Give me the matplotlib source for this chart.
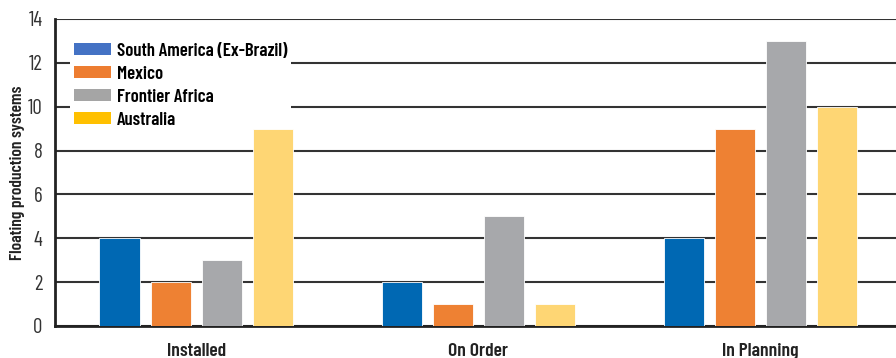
import matplotlib
matplotlib.use("Agg")
import matplotlib.pyplot as plt
from matplotlib.patches import Patch
import numpy as np

plt.rcParams['font.family'] = ['Barlow Condensed', 'Roboto Condensed', 'DejaVu Sans']

categories = ['Installed', 'On Order', 'In Planning']
series = ['South America (Ex-Brazil)', 'Mexico', 'Frontier Africa', 'Australia']
south_america = [4, 2, 4]
mexico = [2, 1, 9]
frontier_africa = [3, 5, 13]
australia = [9, 1, 10]

bar_colors = ['#0068b3', '#ee8133', '#a7a8ab', '#fed674']
legend_colors = ['#4472c4', '#ed7d31', '#a5a5a5', '#ffc000']

fig = plt.figure(figsize=(8.96, 3.58), dpi=100)
ax = fig.add_axes([0.0614, 0.0894, 0.9386, 0.8576])

x = np.arange(len(categories))
w = 0.142
step = 0.181
for i, vals in enumerate([south_america, mexico, frontier_africa, australia]):
    ax.bar(x + (i - 1.5) * step, vals, width=w, color=bar_colors[i],
           edgecolor='white', linewidth=0.6, zorder=3)

ax.set_ylim(0, 14)
ax.set_xlim(-0.5, 2.48)
ax.set_yticks(range(0, 15, 2))
ax.yaxis.grid(True, color='#333333', linewidth=1.5, zorder=0)
ax.tick_params(axis='y', length=0, labelsize=15, pad=9, colors='#333333')
ax.tick_params(axis='x', length=0, labelsize=14, pad=12)
ax.set_xticks(x)
ax.set_xticklabels(categories, fontweight='semibold', color='#222222')
for s in ['top', 'right']:
    ax.spines[s].set_visible(False)
ax.spines['left'].set_linewidth(2)
ax.spines['bottom'].set_linewidth(2)
ax.spines['left'].set_color('#222222')
ax.spines['bottom'].set_color('#222222')
ax.set_ylabel('Floating production systems', fontsize=12.5, fontweight='semibold',
              color='#222222')
ax.yaxis.set_label_coords(-0.036, 0.5)

handles = [Patch(facecolor=c) for c in legend_colors]
leg = ax.legend(handles, series, loc='upper left', bbox_to_anchor=(0.018, 0.935),
                frameon=True, facecolor='white', edgecolor='none', framealpha=1,
                prop={'size': 13.5, 'weight': 'semibold'}, handlelength=2.0,
                handleheight=0.6, handletextpad=0.3, labelspacing=0.32,
                borderpad=0.2, borderaxespad=0)
leg.set_zorder(2)

fig.savefig('out.png', dpi=100)
